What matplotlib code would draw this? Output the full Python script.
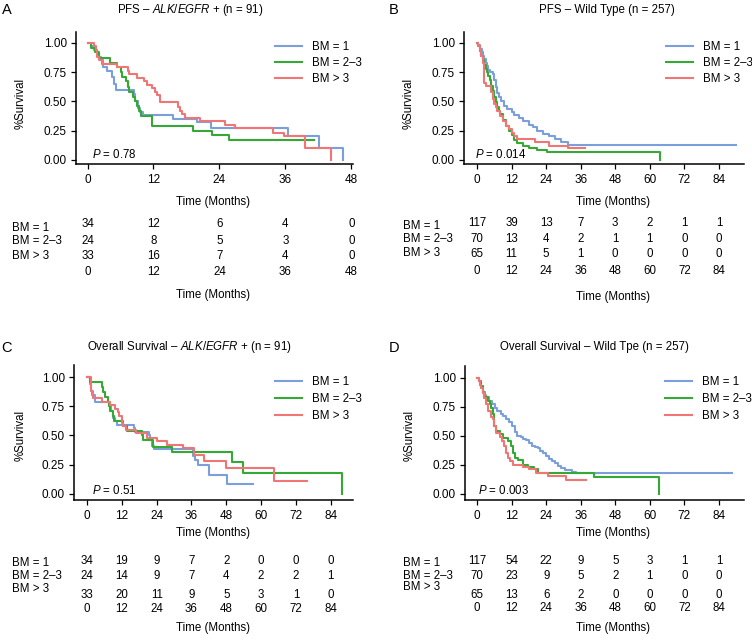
import matplotlib
matplotlib.use("Agg")
import matplotlib.pyplot as plt
from matplotlib.lines import Line2D
from matplotlib.transforms import blended_transform_factory

plt.rcParams['font.family'] = ['Liberation Sans', 'DejaVu Sans']
plt.rcParams['font.size'] = 8.3
plt.rcParams['mathtext.fontset'] = 'custom'
plt.rcParams['mathtext.rm'] = 'Liberation Sans'
plt.rcParams['mathtext.it'] = 'Liberation Sans:italic'

groups = ["BM = 1", "BM = 2–3", "BM > 3"]
colors = ["#7b9fdb", "#35a835", "#f07575"]

# ---- A: PFS, ALK/EGFR+ ----
a_bm1_t = [0, 0.6, 1.2, 1.8, 2.1, 2.4, 2.9, 3.6, 4.5, 4.8, 5.2, 8.5, 8.7, 9.1, 9.6, 10.0, 15.6, 20.0, 22.5, 36.4, 42.1, 46.4]
a_bm1_s = [1.0, 0.97, 0.94, 0.91, 0.88, 0.85, 0.79, 0.76, 0.71, 0.65, 0.60, 0.56, 0.50, 0.44, 0.41, 0.38, 0.35, 0.32, 0.27, 0.20, 0.10, 0.0]
a_bm23_t = [0, 0.7, 1.3, 2.1, 4.0, 5.3, 6.0, 6.2, 7.0, 7.3, 7.6, 8.3, 8.7, 9.0, 9.3, 9.8, 11.8, 19.2, 22.6, 25.7, 41.2]
a_bm23_s = [1.0, 0.96, 0.92, 0.875, 0.83, 0.79, 0.75, 0.71, 0.67, 0.625, 0.58, 0.54, 0.50, 0.46, 0.42, 0.375, 0.29, 0.25, 0.21, 0.17, 0.17]
a_bm3_t = [0, 1.2, 1.5, 1.8, 2.1, 2.7, 5.4, 7.3, 7.5, 9.0, 10.2, 10.8, 11.7, 12.3, 12.7, 13.1, 16.4, 16.9, 17.2, 17.8, 20.4, 25.0, 26.8, 33.7, 35.8, 39.5, 44.3]
a_bm3_s = [1.0, 0.97, 0.94, 0.88, 0.85, 0.82, 0.79, 0.76, 0.73, 0.70, 0.67, 0.64, 0.61, 0.58, 0.55, 0.49, 0.45, 0.42, 0.39, 0.36, 0.33, 0.30, 0.27, 0.23, 0.20, 0.10, 0.0]
a_ticks = [0, 12, 24, 36, 48]
a_risk = [[34, 12, 6, 4, 0], [24, 8, 5, 3, 0], [33, 16, 7, 4, 0]]

# ---- B: PFS, wild type ----
b_bm1_t = [0, 0.4, 1.0, 1.6, 2.0, 2.6, 3.0, 3.5, 4.0, 4.5, 5.5, 6.0, 6.5, 7.0, 7.5, 8.5, 9.5, 10.5, 12.0, 13.0, 14.5, 16.0, 18.0, 19.5, 21.0, 23.0, 25.0, 27.0, 29.0, 31.5, 90.0]
b_bm1_s = [1.0, 0.98, 0.95, 0.92, 0.89, 0.86, 0.83, 0.80, 0.77, 0.75, 0.73, 0.68, 0.62, 0.57, 0.54, 0.50, 0.46, 0.43, 0.41, 0.38, 0.36, 0.33, 0.30, 0.28, 0.25, 0.22, 0.20, 0.18, 0.15, 0.13, 0.13]
b_bm23_t = [0, 0.5, 1.0, 1.5, 2.0, 2.5, 3.0, 3.5, 4.0, 4.5, 5.0, 5.5, 6.0, 6.5, 7.0, 7.5, 8.0, 9.0, 10.0, 11.0, 12.0, 13.0, 14.0, 16.0, 18.0, 21.0, 24.4, 63.5]
b_bm23_s = [1.0, 0.97, 0.93, 0.89, 0.85, 0.81, 0.78, 0.75, 0.72, 0.68, 0.63, 0.59, 0.54, 0.49, 0.45, 0.42, 0.39, 0.34, 0.29, 0.25, 0.21, 0.17, 0.14, 0.12, 0.10, 0.086, 0.07, 0.0]
b_bm3_t = [0, 0.5, 1.0, 1.5, 2.0, 2.3, 2.6, 3.3, 5.0, 5.5, 6.0, 6.5, 7.0, 8.0, 9.0, 10.0, 11.0, 12.0, 13.0, 14.0, 20.3, 25.0, 31.5, 37.4]
b_bm3_s = [1.0, 0.97, 0.94, 0.89, 0.83, 0.74, 0.66, 0.63, 0.58, 0.52, 0.48, 0.45, 0.42, 0.37, 0.33, 0.29, 0.26, 0.23, 0.20, 0.18, 0.15, 0.12, 0.10, 0.10]
b_ticks = [0, 12, 24, 36, 48, 60, 72, 84]
b_risk = [[117, 39, 13, 7, 3, 2, 1, 1], [70, 13, 4, 2, 1, 1, 0, 0], [65, 11, 5, 1, 0, 0, 0, 0]]

# ---- C: OS, ALK/EGFR+ ----
c_bm1_t = [0, 0.9, 1.5, 2.1, 2.9, 7.8, 8.4, 9.0, 9.6, 10.3, 16.1, 16.5, 21.3, 21.7, 22.3, 23.0, 36.6, 37.3, 38.4, 42.2, 48.2, 57.1]
c_bm1_s = [1.0, 0.94, 0.88, 0.85, 0.79, 0.76, 0.71, 0.65, 0.62, 0.59, 0.56, 0.53, 0.50, 0.47, 0.41, 0.38, 0.32, 0.29, 0.25, 0.16, 0.08, 0.08]
c_bm23_t = [0, 0.9, 5.3, 5.6, 6.2, 7.3, 7.6, 8.0, 8.8, 9.3, 12.5, 13.8, 19.1, 19.4, 22.6, 29.4, 49.9, 53.6, 88.0]
c_bm23_s = [1.0, 0.96, 0.92, 0.875, 0.83, 0.79, 0.75, 0.71, 0.67, 0.625, 0.58, 0.54, 0.50, 0.46, 0.40, 0.36, 0.27, 0.18, 0.0]
c_bm3_t = [0, 1.2, 1.5, 1.8, 2.1, 5.0, 7.8, 9.6, 10.7, 11.1, 11.9, 12.2, 12.5, 13.6, 16.8, 20.5, 24.0, 27.5, 33.0, 37.0, 40.4, 48.0, 64.4, 75.7]
c_bm3_s = [1.0, 0.94, 0.88, 0.85, 0.82, 0.79, 0.76, 0.73, 0.70, 0.67, 0.64, 0.61, 0.58, 0.55, 0.52, 0.48, 0.45, 0.42, 0.39, 0.33, 0.28, 0.22, 0.11, 0.11]
c_ticks = [0, 12, 24, 36, 48, 60, 72, 84]
c_risk = [[34, 19, 9, 7, 2, 0, 0, 0], [24, 14, 9, 7, 4, 2, 2, 1], [33, 20, 11, 9, 5, 3, 1, 0]]

# ---- D: OS, wild type ----
d_bm1_t = [0, 0.5, 1.1, 1.5, 2.0, 2.6, 3.1, 4.0, 5.2, 6.1, 7.0, 8.2, 9.1, 10.0, 11.2, 12.1, 13.0, 13.9, 15.2, 16.0, 17.1, 18.2, 19.0, 20.1, 21.2, 22.0, 23.0, 24.1, 25.0, 26.1, 27.0, 28.0, 29.2, 30.6, 33.0, 34.5, 88.5]
d_bm1_s = [1.0, 0.97, 0.94, 0.91, 0.88, 0.85, 0.83, 0.80, 0.77, 0.74, 0.71, 0.69, 0.67, 0.64, 0.62, 0.58, 0.53, 0.50, 0.49, 0.47, 0.46, 0.44, 0.41, 0.40, 0.39, 0.37, 0.35, 0.32, 0.30, 0.28, 0.26, 0.24, 0.22, 0.20, 0.19, 0.18, 0.18]
d_bm23_t = [0, 0.5, 1.4, 2.0, 2.5, 3.7, 4.5, 4.9, 5.4, 5.7, 6.0, 6.6, 7.8, 8.9, 10.6, 11.8, 12.4, 13.0, 14.1, 15.9, 17.6, 19.9, 21.1, 40.7, 63.3]
d_bm23_s = [1.0, 0.97, 0.93, 0.88, 0.83, 0.80, 0.77, 0.74, 0.69, 0.63, 0.58, 0.54, 0.51, 0.48, 0.45, 0.41, 0.35, 0.31, 0.29, 0.25, 0.23, 0.21, 0.18, 0.14, 0.0]
d_bm3_t = [0, 0.5, 1.0, 1.5, 2.0, 2.5, 3.0, 3.7, 4.9, 5.4, 6.0, 6.6, 7.8, 8.7, 9.3, 10.1, 10.6, 11.6, 12.4, 15.9, 18.2, 20.3, 24.5, 30.9, 37.8]
d_bm3_s = [1.0, 0.97, 0.94, 0.91, 0.87, 0.82, 0.77, 0.71, 0.66, 0.64, 0.58, 0.52, 0.49, 0.45, 0.41, 0.35, 0.31, 0.28, 0.25, 0.23, 0.21, 0.18, 0.155, 0.12, 0.12]
d_ticks = [0, 12, 24, 36, 48, 60, 72, 84]
d_risk = [[117, 54, 22, 9, 5, 3, 1, 1], [70, 23, 9, 5, 2, 1, 0, 0], [65, 13, 6, 2, 0, 0, 0, 0]]

W, H = 752, 642
fig = plt.figure(figsize=(W / 100, H / 100), dpi=100)


def fx(x):
    return x / W


def fy(y):
    return 1 - y / H


def panel(box, xlim, ylim, ticks, curves, risk, title, letter, pval, lay):
    L, T, R, B = box
    ax = fig.add_axes([fx(L), fy(B), (R - L) / W, (B - T) / H])
    for (t, s), c in zip(curves, colors):
        ax.step(t, s, where='post', color=c, lw=1.5)
    ax.set_xlim(*xlim)
    ax.set_ylim(*ylim)
    ax.set_xticks(ticks)
    ax.set_yticks([0, 0.25, 0.5, 0.75, 1.0])
    ax.set_yticklabels(["0.00", "0.25", "0.50", "0.75", "1.00"])
    for side in ['top', 'right']:
        ax.spines[side].set_visible(False)
    for side in ['left', 'bottom']:
        ax.spines[side].set_linewidth(1.1)
    ax.tick_params(length=3.6, width=0.9, labelsize=8.5, colors='black')
    ax.tick_params(axis='x', pad=3.5)
    ax.tick_params(axis='y', pad=3.0)

    handles = [Line2D([], [], color=c, lw=1.5) for c in colors]
    ax.legend(handles, groups, loc='upper left', bbox_to_anchor=(fx(lay['leg'][0]), fy(lay['leg'][1])),
              bbox_transform=fig.transFigure, frameon=False, borderpad=0, borderaxespad=0,
              handlelength=2.35, handletextpad=0.85, labelspacing=lay['lsp'], fontsize=8.3)

    fig.text(fx(lay['letter'][0]), fy(lay['letter'][1]), letter, fontsize=10.5, ha='left', va='center')
    fig.text(fx(lay['title'][0]), fy(lay['title'][1]), title, ha='center', va='center')
    fig.text(fx(lay['ylab'][0]), fy(lay['ylab'][1]), "%Survival", rotation=90, ha='center', va='center')
    fig.text(fx(lay['p'][0]), fy(lay['p'][1]), pval, ha='left', va='center')
    fig.text(fx(lay['tx']), fy(lay['t1']), "Time (Months)", ha='center', va='center')
    fig.text(fx(lay['tx']), fy(lay['t2']), "Time (Months)", ha='center', va='center')

    # number-at-risk table
    trans = blended_transform_factory(ax.transData, fig.transFigure)
    for i, row in enumerate(risk):
        fig.text(fx(lay['labx']), fy(lay['laby'][i]), groups[i], ha='left', va='center')
        for t, n in zip(ticks, row):
            ax.text(t, fy(lay['rows'][i]), str(n), transform=trans, ha='center', va='center')
    for t in ticks:
        ax.text(t, fy(lay['tickrow']), str(t), transform=trans, ha='center', va='center')


panel((76, 32, 353, 164), (-2.1, 48.3), (-0.037, 1.094), a_ticks,
      [(a_bm1_t, a_bm1_s), (a_bm23_t, a_bm23_s), (a_bm3_t, a_bm3_s)], a_risk,
      r"PFS – $\mathit{ALK/EGFR}$ + (n = 91)", "A", r"$P$ = 0.78",
      dict(leg=(275, 41), lsp=0.33, letter=(1.5, 10), title=(190, 9.5), ylab=(20.5, 103),
           p=(91.5, 155), tx=213, t1=201.7, t2=295, labx=12, laby=[228, 241, 255.5],
           rows=[223.5, 241, 256], tickrow=271.7))

panel((464, 32, 744, 164), (-4.5, 92.7), (-0.037, 1.094), b_ticks,
      [(b_bm1_t, b_bm1_s), (b_bm23_t, b_bm23_s), (b_bm3_t, b_bm3_s)], b_risk,
      "PFS – Wild Type (n = 257)", "B", r"$P$ = 0.014",
      dict(leg=(666, 41), lsp=0.33, letter=(388.5, 9.5), title=(606.8, 9.5), ylab=(409, 103),
           p=(475.3, 155), tx=613.5, t1=201.7, t2=296.7, labx=403, laby=[225.7, 239.3, 253.3],
           rows=[223.3, 239.3, 254], tickrow=270.7))

panel((74, 365, 353, 500), (-4.5, 91.7), (-0.055, 1.105), c_ticks,
      [(c_bm1_t, c_bm1_s), (c_bm23_t, c_bm23_s), (c_bm3_t, c_bm3_s)], c_risk,
      r"Overall Survival – $\mathit{ALK/EGFR}$ + (n = 91)", "C", r"$P$ = 0.51",
      dict(leg=(275, 376), lsp=0.45, letter=(1.5, 347.5), title=(189.2, 346.7), ylab=(21, 435),
           p=(91.7, 491), tx=213.3, t1=533.3, t2=628.3, labx=12, laby=[562.5, 576, 589],
           rows=[560.7, 576, 595.5], tickrow=608.8))

panel((465, 366, 744, 500), (-4.2, 92.7), (-0.055, 1.1), d_ticks,
      [(d_bm1_t, d_bm1_s), (d_bm23_t, d_bm23_s), (d_bm3_t, d_bm3_s)], d_risk,
      "Overall Survival – Wild Tpe (n = 257)", "D", r"$P$ = 0.003",
      dict(leg=(665, 376), lsp=0.45, letter=(388.5, 347.5), title=(594.7, 346.7), ylab=(409.7, 435),
           p=(477.7, 490), tx=613, t1=533.3, t2=628.3, labx=403, laby=[562.7, 576, 587.3],
           rows=[561, 576, 595], tickrow=608.3))

fig.savefig("out.png", dpi=100)
